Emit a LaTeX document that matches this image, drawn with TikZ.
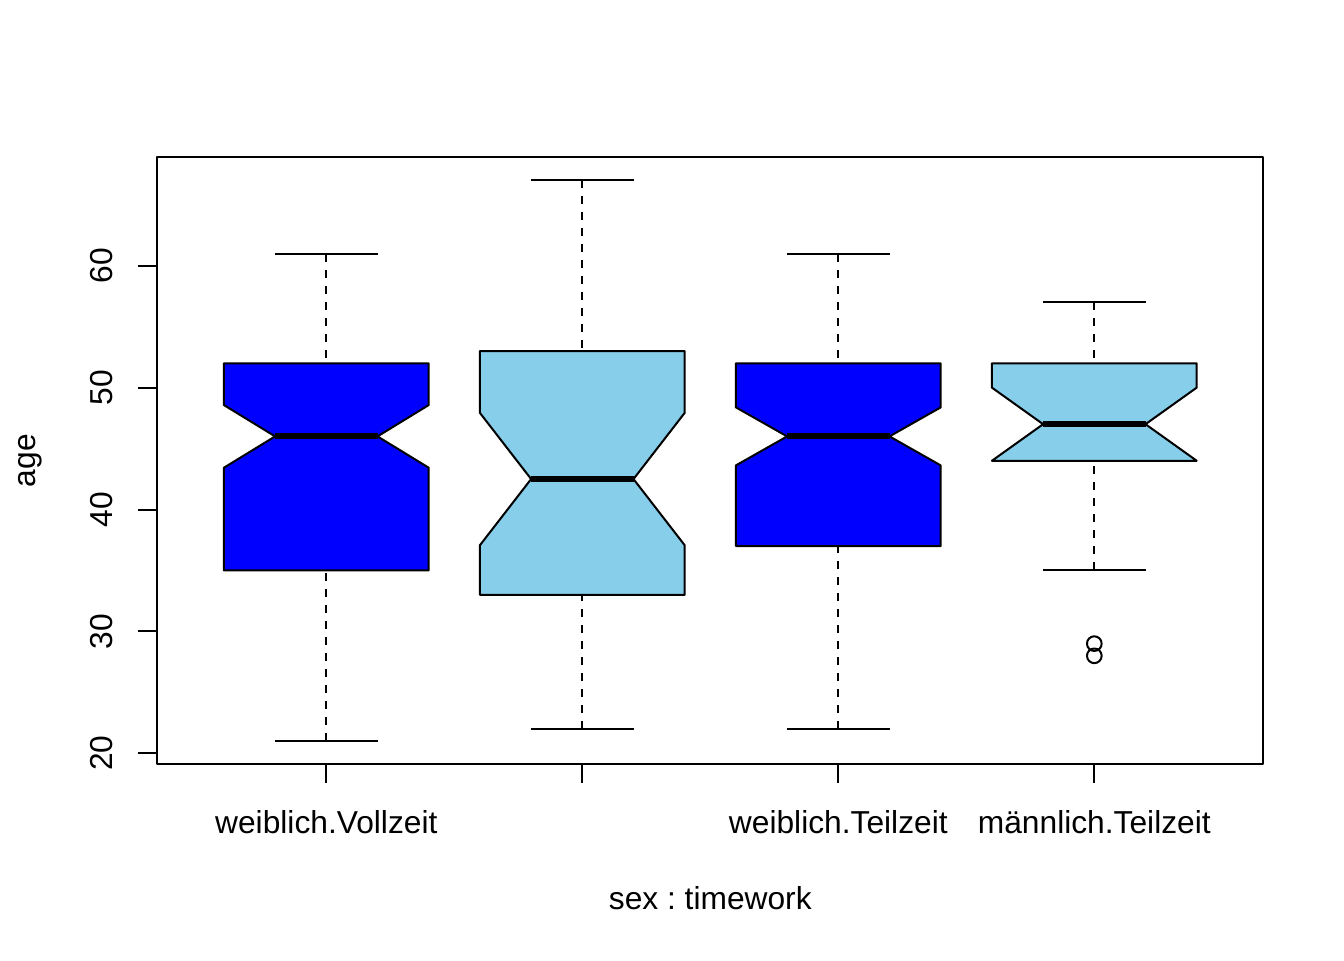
\documentclass[tikz,border=0pt]{standalone}
\usepackage{fontspec}
\setmainfont{Liberation Sans}
\definecolor{skyblue}{HTML}{87CEEB}
\frenchspacing

\begin{document}
\begin{tikzpicture}[x=0.75pt, y=9.1425pt, line width=1.5pt, line join=round,
	whisker/.style={dash pattern=on 6pt off 6pt},
	median/.style={line width=4.5pt},
	lbl/.style={font=\fontsize{23.8}{28}\selectfont, inner sep=0pt}]
	\useasboundingbox (0,3.04) rectangle (1344,81.80);
	% x centre / fill / lower hinge / notch low / median / notch high / upper hinge / whisker ends
	\foreach \c/\col/\lo/\nlo/\med/\nhi/\hi/\wlo/\whi in {
		326.3/blue/35/43.43/46/48.57/52/21/61,
		582.3/skyblue/33/37.07/42.5/47.93/53/22/67,
		838.3/blue/37/43.62/46/48.38/52/22/61,
		1094.3/skyblue/44/44/47/50/52/35/57} {
		\draw [fill=\col] (\c-102.4,\lo) -- (\c-102.4,\nlo) -- (\c-51.2,\med) -- (\c-102.4,\nhi) -- (\c-102.4,\hi)
			-- (\c+102.4,\hi) -- (\c+102.4,\nhi) -- (\c+51.2,\med) -- (\c+102.4,\nlo) -- (\c+102.4,\lo) -- cycle;
		\draw [median] (\c-51.2,\med) -- (\c+51.2,\med);
		\draw [whisker] (\c,\whi) -- (\c,\hi);
		\draw [whisker] (\c,\wlo) -- (\c,\lo);
		\draw (\c-51.2,\whi) -- (\c+51.2,\whi);
		\draw (\c-51.2,\wlo) -- (\c+51.2,\wlo);
		\draw (\c,19.12) -- (\c,17.54);
	}
	\draw (1094.3,29) circle [radius=5.5pt];
	\draw (1094.3,28) circle [radius=5.5pt];
	\draw (157.3,19.12) rectangle (1263.3,68.89);
	\foreach \v in {20,30,...,60} {
		\draw (157.3,\v) -- (138,\v);
		\node [lbl, rotate=90, anchor=base] (y\v) at (112,\v) {\v};
	}
	\node [lbl, anchor=base] (lab1) at (326.3,13.44) {weiblich.Vollzeit};
	\node [lbl, anchor=base] (lab3) at (838.3,13.44) {weiblich.Teilzeit};
	\node [lbl, anchor=base] (lab4) at (1094.3,13.44) {männlich.Teilzeit};
	\node [lbl, anchor=base] (xlab) at (710.3,7.20) {sex : timework};
	\node [lbl, rotate=90, anchor=base] (ylab) at (35,44.01) {age};
\end{tikzpicture}
\end{document}
